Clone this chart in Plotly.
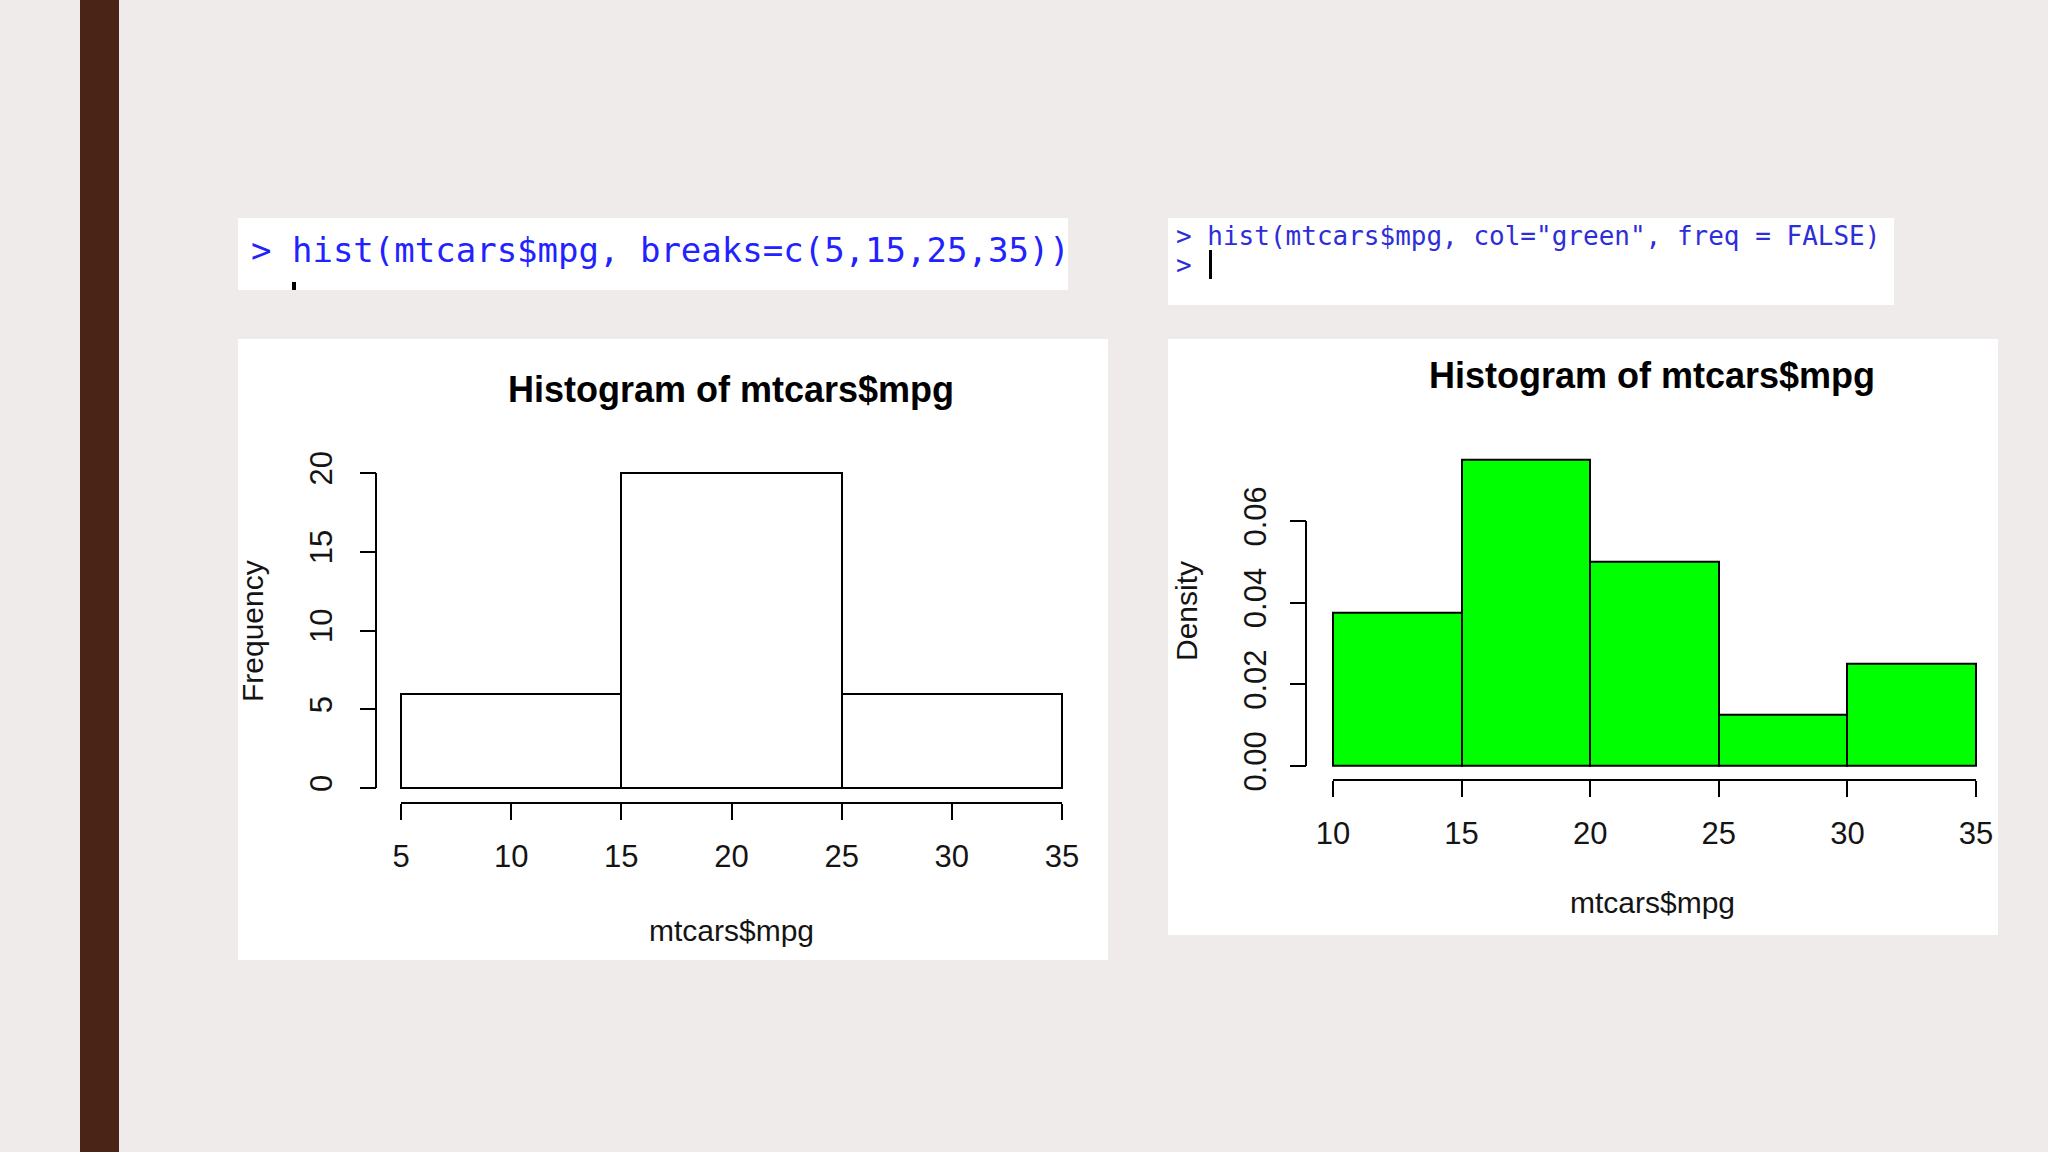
import plotly.graph_objects as go

W, H = 2048, 1152

# ---------------- data ----------------
left_breaks = [5, 15, 25, 35]
left_counts = [6, 20, 6]
right_breaks = [10, 15, 20, 25, 30, 35]
right_density = [0.0375, 0.075, 0.05, 0.0125, 0.025]

left_xticks = [5, 10, 15, 20, 25, 30, 35]
left_yticks = [0, 5, 10, 15, 20]
right_xticks = [10, 15, 20, 25, 30, 35]
right_yticks = [0.00, 0.02, 0.04, 0.06]
right_ytick_labels = ["0.00", "0.02", "0.04", "0.06"]

title_text = "Histogram of mtcars$mpg"
x_label = "mtcars$mpg"
left_ylab = "Frequency"
right_ylab = "Density"
left_cmd = "> hist(mtcars$mpg, breaks=c(5,15,25,35))"
right_cmd = '> hist(mtcars$mpg, col="green", freq = FALSE)'
right_prompt = ">"

# ---------------- helpers ----------------
def px(x):
    return x / W

def py(y):
    return 1 - y / H

def xcalc(v0, p0, v1, p1, pad=6):
    k = (v1 - v0) / (p1 - p0)
    return dict(domain=[(p0 - pad) / W, (p1 + pad) / W], range=[v0 - pad * k, v1 + pad * k])

def ycalc(v0, p0, v1, p1, pad=6):
    k = (v1 - v0) / (p0 - p1)
    return dict(domain=[1 - (p0 + pad) / H, 1 - (p1 - pad) / H], range=[v0 - pad * k, v1 + pad * k])

def centers(b):
    return [(b[i] + b[i + 1]) / 2 for i in range(len(b) - 1)]

def widths(b):
    return [b[i + 1] - b[i] for i in range(len(b) - 1)]

BG = "#efebeb"
TXT = "#141414"
FONT = "Liberation Sans, Arial, sans-serif"

fig = go.Figure()

fig.add_trace(go.Bar(
    x=centers(left_breaks), y=left_counts, width=widths(left_breaks),
    marker=dict(color="white", line=dict(color="black", width=2)),
    xaxis="x", yaxis="y", showlegend=False, hoverinfo="skip"))

fig.add_trace(go.Bar(
    x=centers(right_breaks), y=right_density, width=widths(right_breaks),
    marker=dict(color="#00ff00", line=dict(color="black", width=2)),
    xaxis="x2", yaxis="y2", showlegend=False, hoverinfo="skip"))

# pixel geometry
LX0, LX1, LY0, LY1 = 401, 1062, 788, 473      # left: x 5..35, y 0..20
RX0, RX1, RY0, RY006 = 1333, 1976, 766, 521   # right: x 10..35, y 0..0.06
r_top_val = max(right_density)
r_top_px = RY0 - (RY0 - RY006) * r_top_val / right_yticks[-1]

tick_common = dict(ticks="outside", ticklen=16, tickwidth=2, tickcolor="black",
                   showgrid=False, zeroline=False, showline=False, automargin=False,
                   tickfont=dict(family=FONT, size=31, color=TXT))

fig.update_layout(
    template="none",
    width=W, height=H, autosize=False,
    margin=dict(l=0, r=0, t=0, b=0, pad=0),
    paper_bgcolor=BG, plot_bgcolor="rgba(0,0,0,0)",
    bargap=0,
    xaxis=dict(**xcalc(left_xticks[0], LX0, left_xticks[-1], LX1), anchor="free", position=py(803),
               tickvals=left_xticks, ticklabelstandoff=10, **tick_common),
    yaxis=dict(**ycalc(left_yticks[0], LY0, left_yticks[-1], LY1), anchor="free", position=px(376),
               tickvals=left_yticks, tickangle=-90, ticklabelstandoff=16, **tick_common),
    xaxis2=dict(**xcalc(right_xticks[0], RX0, right_xticks[-1], RX1), anchor="free", position=py(780),
                tickvals=right_xticks, ticklabelstandoff=10, **tick_common),
    yaxis2=dict(**ycalc(0, RY0, r_top_val, r_top_px), anchor="free", position=px(1306),
                tickvals=right_yticks, ticktext=right_ytick_labels, tickangle=-90,
                ticklabelstandoff=12, **tick_common),
)

shapes = []
# brown side bar
shapes.append(dict(type="rect", xref="paper", yref="paper", x0=px(80), x1=px(119), y0=0, y1=1,
                   fillcolor="#4b2418", line=dict(width=0), layer="below"))
# white panels
for (x0, y0, x1, y1) in [(238, 218, 1068, 290), (1168, 218, 1894, 305),
                         (238, 339, 1108, 960), (1168, 339, 1998, 935)]:
    shapes.append(dict(type="rect", xref="paper", yref="paper", x0=px(x0), x1=px(x1),
                       y0=py(y1), y1=py(y0), fillcolor="white", line=dict(width=0), layer="below"))
# cursors
shapes.append(dict(type="rect", xref="paper", yref="paper", x0=px(292), x1=px(296), y0=py(290), y1=py(282),
                   fillcolor="black", line=dict(width=0)))
shapes.append(dict(type="rect", xref="paper", yref="paper", x0=px(1209), x1=px(1212), y0=py(279), y1=py(250),
                   fillcolor="black", line=dict(width=0)))
# axis lines (R style: only across the tick span)
shapes.append(dict(type="line", xref="x", yref="paper", x0=left_xticks[0], x1=left_xticks[-1],
                   y0=py(803), y1=py(803), line=dict(color="black", width=2)))
shapes.append(dict(type="line", xref="paper", yref="y", x0=px(376), x1=px(376),
                   y0=left_yticks[0], y1=left_yticks[-1], line=dict(color="black", width=2)))
shapes.append(dict(type="line", xref="x2", yref="paper", x0=right_xticks[0], x1=right_xticks[-1],
                   y0=py(780), y1=py(780), line=dict(color="black", width=2)))
shapes.append(dict(type="line", xref="paper", yref="y2", x0=px(1306), x1=px(1306),
                   y0=right_yticks[0], y1=right_yticks[-1], line=dict(color="black", width=2)))
fig.update_layout(shapes=shapes)

ann = []
def add_text(text, x, y, size, color=TXT, family=FONT, angle=0, xanchor="center", yanchor="middle"):
    ann.append(dict(text=text, x=px(x), y=py(y), xref="paper", yref="paper", showarrow=False,
                    xanchor=xanchor, yanchor=yanchor, textangle=angle,
                    font=dict(family=family, size=size, color=color)))

add_text("<b>" + title_text + "</b>", 731, 389, 36, color="#000000")
add_text("<b>" + title_text + "</b>", 1652, 376, 36, color="#000000")
add_text(x_label, 731, 930, 30)
add_text(x_label, 1652, 902, 30)
add_text(left_ylab, 252, 631, 30, angle=-90)
add_text(right_ylab, 1186, 611, 30, angle=-90)
add_text(left_cmd, 249, 250, 34, color="#2222ff", family="DejaVu Sans Mono", xanchor="left")
add_text(right_cmd, 1174, 236, 26, color="#2e2ed8", family="DejaVu Sans Mono", xanchor="left")
add_text(right_prompt, 1174, 265, 26, color="#2e2ed8", family="DejaVu Sans Mono", xanchor="left")
fig.update_layout(annotations=ann)

fig.write_html(
    "out.html",
    config={"displayModeBar": False},
    post_script="document.body.style.margin='0';document.body.style.padding='0';"
                "document.body.style.background='" + BG + "';"
                "document.documentElement.style.overflow='hidden';",
)
